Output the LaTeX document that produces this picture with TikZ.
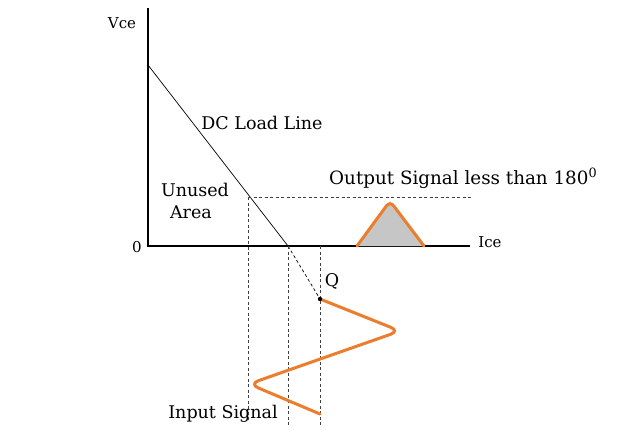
\documentclass[tikz,border=0pt]{standalone}
\usepackage{fontspec}
\setmainfont{DejaVu Serif}
\usetikzlibrary{calc}
\begin{document}
\begin{tikzpicture}[x=1pt,y=-1pt,
 lbl/.style={font=\fontsize{17.5}{20}\selectfont,inner sep=0pt},
 sml/.style={font=\fontsize{15}{17}\selectfont,inner sep=0pt},
 guide/.style={draw=black!75,line width=0.5pt,dash pattern=on 3pt off 2.5pt},
 sig/.style={draw={rgb,255:red,235;green,125;blue,45},line width=3pt,line cap=round,line join=round}]
\useasboundingbox (0,0) rectangle (640,436);
\coordinate (O) at (148,246);
\coordinate (ytop) at (148,8);
\coordinate (xend) at (470,246);
\coordinate (L0) at (148,65);
\coordinate (X0) at (288,246);
\coordinate (U) at (248,197);
\coordinate (Hend) at (472,197);
\coordinate (Q) at (320,299);
\draw[line width=2pt] (ytop) -- (O) -- (xend);
\draw[line width=0.7pt] (L0) -- (X0);
\draw[guide,draw=black,line width=0.7pt] (X0) -- (Q);
\draw[guide] (U) -- (Hend);
\draw[guide] (U) -- (248,420);
\draw[guide] (X0) -- (288,425);
\draw[guide] (320,246) -- (320,425);
\fill[gray!45] (357,246) -- (390,201) -- (424,246) -- cycle;
\draw[sig,rounded corners=6pt] (357,246) -- (390,201) -- (424,246);
\draw[sig,rounded corners=10pt] (Q) -- (400,331) -- (249,384) -- (320,414);
\fill (Q) circle (2.2pt);
\node[sml] (vce) at (122,23) {Vce};
\node[sml] (zero) at (137,247) {0};
\node[sml] (ice) at (490,242) {Ice};
\node[lbl] (dc) at (262,123) {DC Load Line};
\node[lbl] (un1) at (195,190) {Unused};
\node[lbl] (un2) at (191,212) {Area};
\node[lbl,anchor=west] (out) at (329,178) {\resizebox{268pt}{!}{Output Signal less than 180\textsuperscript{0}}};
\node[lbl] (q) at (332,281) {Q};
\node[lbl] (in) at (223,414) {Input Signal};
\end{tikzpicture}
\end{document}
